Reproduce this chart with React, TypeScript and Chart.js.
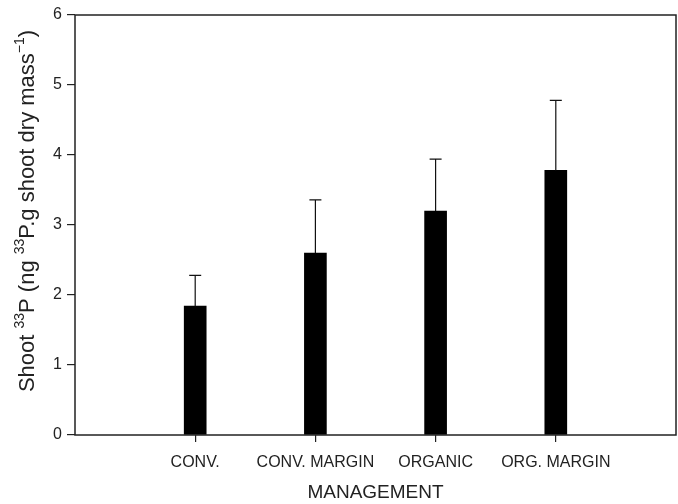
import React, { useEffect, useRef } from "react";
import { Chart, registerables } from "chart.js";

Chart.register(...registerables);

const categories = ["CONV.", "CONV. MARGIN", "ORGANIC", "ORG. MARGIN"];
const means = [1.84, 2.6, 3.2, 3.78];
const errors = [0.44, 0.76, 0.74, 1.0];
const yTicks = [0, 1, 2, 3, 4, 5, 6];

const FONT = "'Liberation Sans', Arial, Helvetica, sans-serif";

const framePlugin = {
  id: "frameAndErrors",
  afterDatasetsDraw(chart: any) {
    const { ctx, chartArea, scales } = chart;
    const xs = scales.x;
    const ys = scales.y;
    ctx.save();
    ctx.strokeStyle = "#111";
    ctx.lineWidth = 1.2;
    means.forEach((m, i) => {
      const x = xs.getPixelForValue(i + 1);
      const y0 = ys.getPixelForValue(m);
      const y1 = ys.getPixelForValue(m + errors[i]);
      ctx.beginPath();
      ctx.moveTo(x, y0);
      ctx.lineTo(x, y1);
      ctx.moveTo(x - 6, y1);
      ctx.lineTo(x + 6, y1);
      ctx.stroke();
    });
    ctx.strokeStyle = "#222";
    ctx.lineWidth = 1.5;
    ctx.strokeRect(
      chartArea.left,
      chartArea.top,
      chartArea.right - chartArea.left,
      chartArea.bottom - chartArea.top
    );
    ctx.restore();
  },
  afterDraw(chart: any) {
    const { ctx, chartArea } = chart;
    const segs: [string, boolean][] = [
      ["Shoot ", false],
      ["33", true],
      ["P (ng ", false],
      ["33", true],
      ["P.g shoot dry mass", false],
      ["\u22121", true],
      [")", false],
    ];
    const normal = `22px ${FONT}`;
    const sup = `14px ${FONT}`;
    ctx.save();
    let total = 0;
    segs.forEach(([t, s]) => {
      ctx.font = s ? sup : normal;
      total += ctx.measureText(t).width;
    });
    const cy = (chartArea.top + chartArea.bottom) / 2 - 14;
    ctx.translate(28, cy);
    ctx.rotate(-Math.PI / 2);
    ctx.fillStyle = "#222";
    ctx.textBaseline = "middle";
    ctx.textAlign = "left";
    let x = -total / 2;
    segs.forEach(([t, s]) => {
      ctx.font = s ? sup : normal;
      ctx.fillText(t, x, s ? -8 : 0);
      x += ctx.measureText(t).width;
    });
    ctx.restore();
  },
};

export default function App() {
  const ref = useRef<HTMLCanvasElement>(null);
  useEffect(() => {
    document.body.style.margin = "0";
    const chart = new Chart(ref.current as HTMLCanvasElement, {
      type: "bar",
      data: {
        datasets: [
          {
            data: means.map((m, i) => ({ x: i + 1, y: m })),
            backgroundColor: "#000",
            borderWidth: 0,
            barThickness: 22,
          } as any,
        ],
      },
      options: {
        responsive: false,
        animation: false,
        layout: { padding: { top: 15, right: 2, left: 0, bottom: 0 } },
        plugins: {
          legend: { display: false },
          tooltip: { enabled: false },
        },
        scales: {
          x: {
            type: "linear",
            min: 0,
            max: 5,
            offset: false,
            afterBuildTicks: (scale: any) => {
              scale.ticks = categories.map((_, i) => ({ value: i + 1 }));
            },
            afterFit: (scale: any) => {
              scale.height = 69;
            },
            border: { display: false },
            grid: {
              offset: false,
              drawOnChartArea: false,
              drawTicks: true,
              tickLength: 7,
              color: "#222",
              lineWidth: 1.2,
            },
            ticks: {
              autoSkip: false,
              maxRotation: 0,
              padding: 11,
              color: "#222",
              font: { family: FONT, size: 16 },
              callback: (v: any) => categories[Number(v) - 1] ?? "",
            },
            title: {
              display: true,
              text: "MANAGEMENT",
              color: "#222",
              font: { family: FONT, size: 19 },
              padding: { top: 0, bottom: 0 },
            },
          } as any,
          y: {
            min: 0,
            max: 6,
            afterBuildTicks: (scale: any) => {
              scale.ticks = yTicks.map((v) => ({ value: v }));
            },
            afterFit: (scale: any) => {
              scale.width = 75;
            },
            border: { display: false },
            grid: {
              drawOnChartArea: false,
              drawTicks: true,
              tickLength: 8,
              color: "#222",
              lineWidth: 1.2,
            },
            ticks: {
              padding: 5,
              color: "#222",
              font: { family: FONT, size: 16 },
            },
          },
        },
      },
      plugins: [framePlugin],
    });
    return () => chart.destroy();
  }, []);
  return (
    <div style={{ width: 678, height: 504, background: "#fff" }}>
      <canvas ref={ref} width={678} height={504} />
    </div>
  );
}
